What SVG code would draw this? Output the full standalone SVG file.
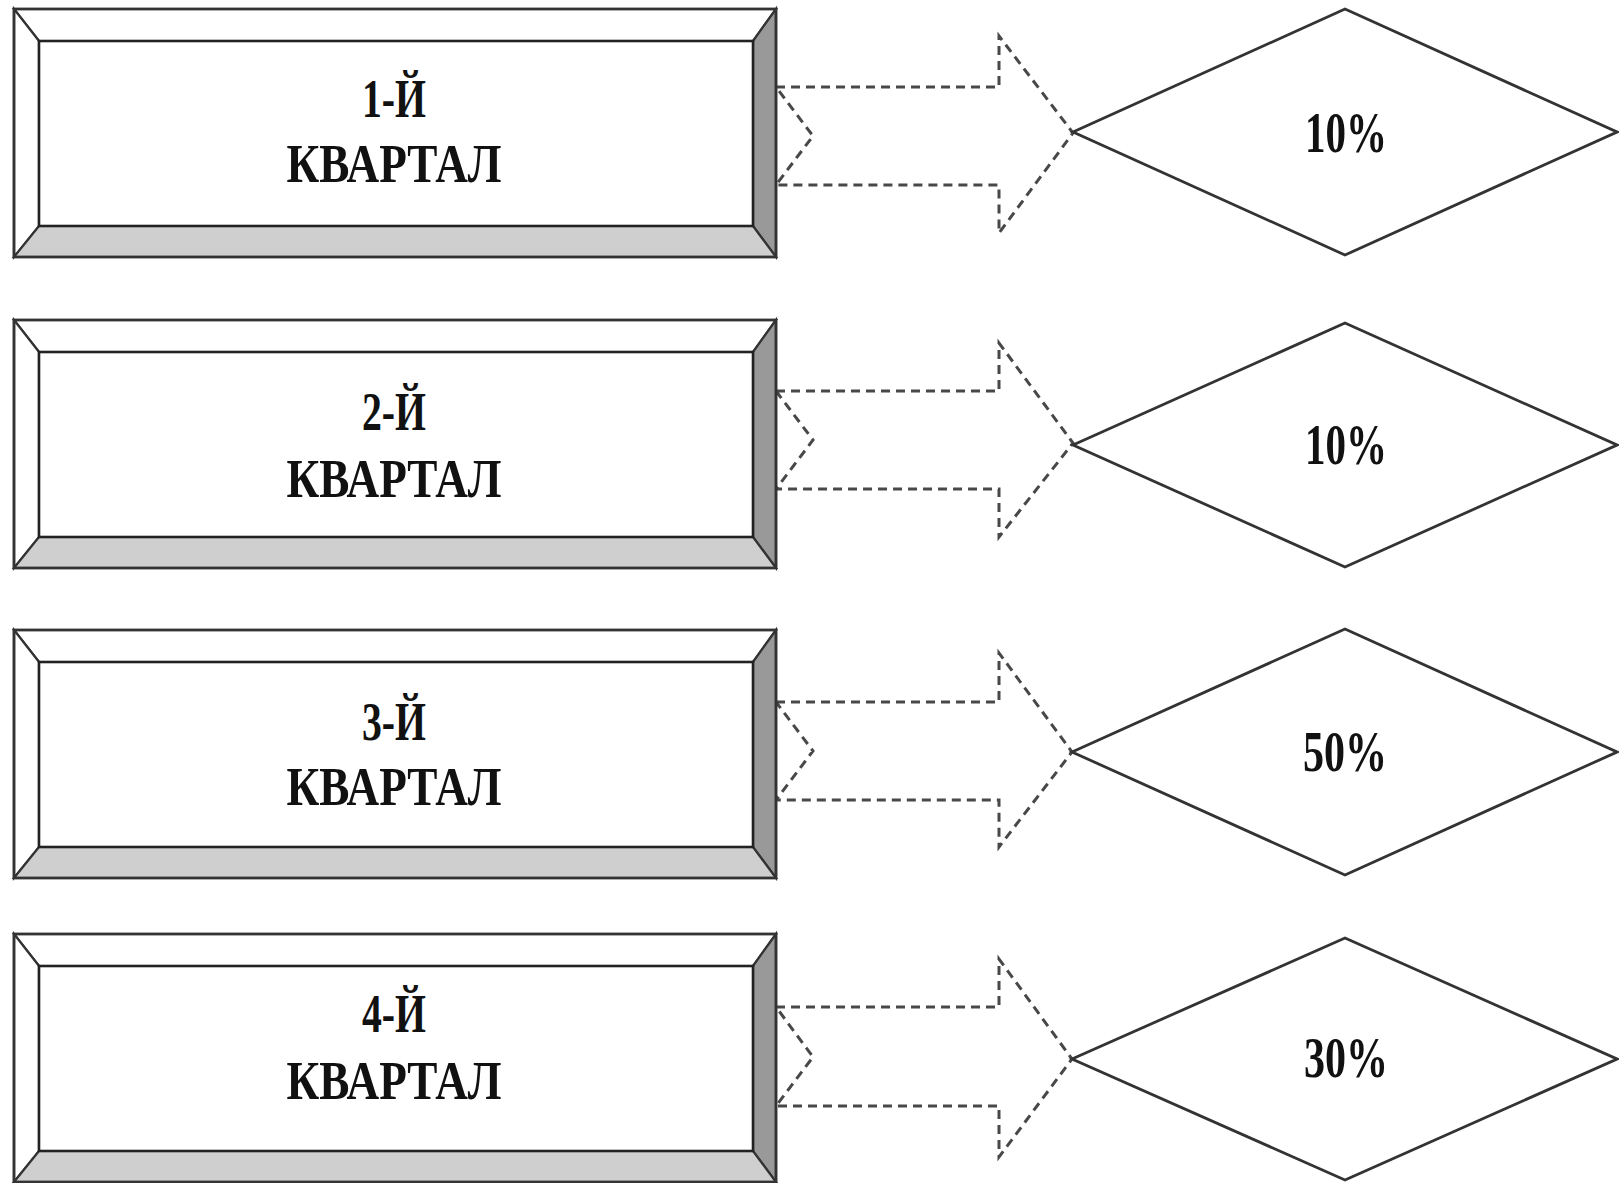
<svg xmlns="http://www.w3.org/2000/svg" xmlns:xlink="http://www.w3.org/1999/xlink" width="1619" height="1183" viewBox="0 0 1619 1183">
<style>
.face{stroke:#333;stroke-width:2.2;stroke-linejoin:miter}
.lt{fill:#fff}
.dk{fill:#999}
.md{fill:#cfcfcf}
.inner{fill:#fff;stroke:#222;stroke-width:2.6}
.lbl{font-family:"Liberation Serif","Times New Roman",serif;font-weight:bold;font-size:54px;fill:#111;text-anchor:middle}
.pct{font-family:"Liberation Serif","Times New Roman",serif;font-weight:bold;font-size:58px;fill:#111;text-anchor:middle}
.dia{fill:#fff;stroke:#333;stroke-width:2.8;stroke-linejoin:miter}
.arr{fill:none;stroke:#484848;stroke-width:3;stroke-dasharray:9 6}
</style>
<defs>
<g id="bevelBox">
<polygon class="face lt" points="14,0 776,0 753,32 39,32"/>
<polygon class="face lt" points="14,0 39,32 39,217 14,248"/>
<polygon class="face dk" points="776,0 776,248 753,217 753,32"/>
<polygon class="face md" points="14,248 39,217 753,217 776,248"/>
<rect class="inner" x="39" y="32" width="714" height="185"/>
<rect x="14" y="0" width="762" height="248" fill="none" stroke="#333" stroke-width="2.8"/>
</g>
</defs>
<g id="connectors">
<path class="arr" d="M776,87 L999,87 L999,36 L1073,133 L999,233 L999,185 L776,185 L813,136 Z"/>
<path class="arr" d="M776,391 L999,391 L999,343 L1073,443 L999,537 L999,489 L776,489 L813,440 Z"/>
<path class="arr" d="M776,702 L999,702 L999,653 L1072,752 L999,847 L999,800 L776,800 L813,751 Z"/>
<path class="arr" d="M776,1007 L999,1007 L999,959 L1072,1059 L999,1157 L999,1106 L776,1106 L813,1057 Z"/>
</g>
<g id="q1">
<use xlink:href="#bevelBox" href="#bevelBox" y="9"/>
<text class="lbl" x="394" y="117" textLength="64" lengthAdjust="spacingAndGlyphs">1-Й</text>
<text class="lbl" x="394" y="182" textLength="215" lengthAdjust="spacingAndGlyphs">КВАРТАЛ</text>
</g>
<g id="q2">
<use xlink:href="#bevelBox" href="#bevelBox" y="320"/>
<text class="lbl" x="394" y="430" textLength="64" lengthAdjust="spacingAndGlyphs">2-Й</text>
<text class="lbl" x="394" y="497" textLength="215" lengthAdjust="spacingAndGlyphs">КВАРТАЛ</text>
</g>
<g id="q3">
<use xlink:href="#bevelBox" href="#bevelBox" y="630"/>
<text class="lbl" x="394" y="740" textLength="64" lengthAdjust="spacingAndGlyphs">3-Й</text>
<text class="lbl" x="394" y="805" textLength="215" lengthAdjust="spacingAndGlyphs">КВАРТАЛ</text>
</g>
<g id="q4">
<use xlink:href="#bevelBox" href="#bevelBox" y="934"/>
<text class="lbl" x="394" y="1032" textLength="64" lengthAdjust="spacingAndGlyphs">4-Й</text>
<text class="lbl" x="394" y="1099" textLength="215" lengthAdjust="spacingAndGlyphs">КВАРТАЛ</text>
</g>
<g id="d1">
<polygon class="dia" points="1073,132 1345,9 1617,132 1345,255"/>
<text class="pct" x="1346" y="152" textLength="82" lengthAdjust="spacingAndGlyphs">10%</text>
</g>
<g id="d2">
<polygon class="dia" points="1073,445 1345,323 1617,445 1345,567"/>
<text class="pct" x="1346" y="464" textLength="82" lengthAdjust="spacingAndGlyphs">10%</text>
</g>
<g id="d3">
<polygon class="dia" points="1072,752 1345,629 1617,752 1345,875"/>
<text class="pct" x="1345" y="771" textLength="84" lengthAdjust="spacingAndGlyphs">50%</text>
</g>
<g id="d4">
<polygon class="dia" points="1072,1059 1345,938 1617,1059 1345,1180"/>
<text class="pct" x="1346" y="1077" textLength="84" lengthAdjust="spacingAndGlyphs">30%</text>
</g>
</svg>
